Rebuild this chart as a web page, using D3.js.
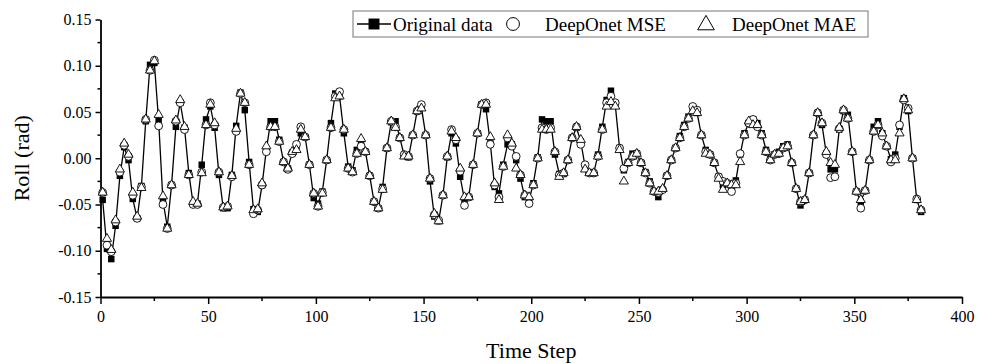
<!DOCTYPE html>
<html>
<head>
<meta charset="utf-8">
<script src="https://cdn.jsdelivr.net/npm/d3@7"></script>
<style>
  body { margin: 0; background: #fff; }
  text { font-family: "Liberation Serif", "Times New Roman", serif; fill: #000; }
</style>
</head>
<body>
<div class="chart"></div>
<script>
// time axis (one sample every 2 steps)
const timeStep = d3.range(1, 382, 2);

const original = [
  -0.045, -0.098, -0.109, -0.073, -0.019, 0.012, -0.002, -0.044, -0.065, -0.030,
  0.040, 0.101, 0.103, 0.040, -0.046, -0.074, -0.029, 0.034, 0.060, 0.033,
  -0.016, -0.049, -0.049, -0.007, 0.042, 0.056, 0.033, -0.018, -0.054, -0.054,
  -0.018, 0.035, 0.071, 0.052, -0.004, -0.055, -0.058, -0.029, 0.009, 0.040,
  0.040, 0.020, -0.004, -0.011, 0.006, 0.013, 0.027, 0.023, -0.007, -0.043,
  -0.049, -0.036, -0.002, 0.038, 0.070, 0.067, 0.027, -0.009, -0.013, 0.009,
  0.015, 0.007, -0.019, -0.047, -0.054, -0.031, 0.011, 0.039, 0.040, 0.022,
  0.003, 0.001, 0.025, 0.051, 0.055, 0.025, -0.025, -0.063, -0.068, -0.040,
  0.001, 0.027, 0.016, -0.020, -0.045, -0.042, -0.007, 0.027, 0.058, 0.053,
  0.016, -0.031, -0.038, -0.007, 0.015, 0.015, -0.002, -0.022, -0.042, -0.045,
  -0.027, 0.001, 0.042, 0.040, 0.040, 0.004, -0.017, -0.017, -0.002, 0.022,
  0.033, 0.018, -0.009, -0.015, -0.016, 0.004, 0.034, 0.063, 0.073, 0.058,
  0.011, -0.013, -0.004, 0.005, 0.005, -0.005, -0.015, -0.025, -0.036, -0.042,
  -0.034, -0.019, -0.002, 0.011, 0.024, 0.036, 0.045, 0.054, 0.049, 0.025,
  0.009, 0.004, -0.005, -0.020, -0.029, -0.027, -0.031, -0.024, 0.004, 0.027,
  0.038, 0.042, 0.038, 0.027, 0.009, -0.001, 0.004, 0.007, 0.013, 0.015,
  -0.005, -0.033, -0.051, -0.045, -0.016, 0.025, 0.049, 0.036, 0.005, -0.012,
  -0.012, 0.031, 0.051, 0.047, 0.007, -0.036, -0.047, -0.035, -0.002, 0.034,
  0.040, 0.027, 0.013, -0.001, 0.004, 0.034, 0.065, 0.051, 0.000, -0.045,
  -0.058
];

const deeponetMSE = [
  -0.037, -0.094, -0.101, -0.069, -0.015, 0.014, 0.002, -0.040, -0.065, -0.031,
  0.042, 0.095, 0.106, 0.035, -0.050, -0.076, -0.029, 0.040, 0.060, 0.031,
  -0.018, -0.050, -0.050, -0.015, 0.036, 0.060, 0.036, -0.015, -0.053, -0.052,
  -0.020, 0.029, 0.070, 0.060, -0.007, -0.060, -0.056, -0.029, 0.007, 0.034,
  0.034, 0.018, -0.004, -0.012, 0.005, 0.015, 0.034, 0.023, -0.007, -0.038,
  -0.052, -0.037, -0.002, 0.033, 0.067, 0.072, 0.031, -0.011, -0.015, 0.005,
  0.013, 0.007, -0.019, -0.047, -0.054, -0.033, 0.011, 0.040, 0.034, 0.022,
  0.004, 0.002, 0.025, 0.051, 0.058, 0.025, -0.022, -0.061, -0.067, -0.040,
  0.002, 0.031, 0.020, -0.014, -0.051, -0.042, -0.007, 0.027, 0.058, 0.060,
  0.015, -0.029, -0.042, -0.009, 0.022, 0.013, 0.002, -0.018, -0.040, -0.049,
  -0.029, 0.000, 0.033, 0.031, 0.033, 0.007, -0.018, -0.016, -0.002, 0.022,
  0.034, 0.015, -0.007, -0.016, -0.016, 0.002, 0.031, 0.060, 0.067, 0.060,
  0.011, -0.011, -0.005, 0.002, 0.005, -0.005, -0.016, -0.027, -0.036, -0.037,
  -0.034, -0.019, -0.002, 0.011, 0.022, 0.034, 0.043, 0.056, 0.052, 0.025,
  0.007, 0.004, -0.005, -0.020, -0.025, -0.027, -0.036, -0.027, 0.005, 0.025,
  0.038, 0.042, 0.034, 0.025, 0.007, -0.002, 0.004, 0.005, 0.011, 0.013,
  -0.005, -0.033, -0.047, -0.045, -0.016, 0.025, 0.049, 0.038, 0.004, -0.021,
  -0.020, 0.032, 0.052, 0.043, 0.007, -0.036, -0.054, -0.035, -0.002, 0.029,
  0.036, 0.024, 0.013, -0.004, 0.000, 0.036, 0.063, 0.054, 0.000, -0.044,
  -0.056
];

const deeponetMAE = [
  -0.037, -0.087, -0.099, -0.067, -0.012, 0.016, 0.004, -0.037, -0.063, -0.032,
  0.042, 0.095, 0.105, 0.047, -0.041, -0.076, -0.029, 0.041, 0.063, 0.034,
  -0.018, -0.047, -0.049, -0.016, 0.036, 0.058, 0.038, -0.015, -0.053, -0.052,
  -0.019, 0.032, 0.070, 0.060, -0.007, -0.056, -0.055, -0.027, 0.013, 0.034,
  0.034, 0.018, -0.004, -0.011, 0.007, 0.009, 0.031, 0.023, -0.007, -0.038,
  -0.052, -0.038, -0.002, 0.033, 0.065, 0.067, 0.031, -0.011, -0.015, 0.005,
  0.021, 0.007, -0.019, -0.047, -0.054, -0.034, 0.011, 0.040, 0.033, 0.022,
  0.002, 0.002, 0.025, 0.051, 0.054, 0.025, -0.022, -0.060, -0.068, -0.040,
  0.002, 0.029, 0.022, -0.011, -0.042, -0.042, -0.007, 0.027, 0.058, 0.058,
  0.023, -0.027, -0.045, -0.009, 0.025, 0.016, -0.011, -0.018, -0.040, -0.042,
  -0.029, 0.000, 0.031, 0.031, 0.031, 0.007, -0.020, -0.016, -0.002, 0.022,
  0.034, 0.020, -0.012, -0.016, -0.016, 0.002, 0.031, 0.056, 0.061, 0.056,
  0.009, -0.025, -0.005, 0.002, 0.005, -0.005, -0.016, -0.027, -0.036, -0.036,
  -0.033, -0.019, -0.002, 0.011, 0.022, 0.034, 0.043, 0.051, 0.049, 0.025,
  0.005, 0.004, -0.005, -0.022, -0.034, -0.027, -0.029, -0.029, -0.004, 0.025,
  0.040, 0.036, 0.036, 0.025, 0.007, -0.002, 0.004, 0.005, 0.011, 0.013,
  -0.005, -0.033, -0.047, -0.045, -0.016, 0.025, 0.049, 0.038, 0.007, -0.005,
  -0.007, 0.033, 0.052, 0.043, 0.007, -0.036, -0.045, -0.035, -0.002, 0.029,
  0.036, 0.027, 0.013, -0.002, -0.002, 0.027, 0.064, 0.052, 0.000, -0.045,
  -0.056
];

const xTicks = [0, 50, 100, 150, 200, 250, 300, 350, 400];
const yTicks = [-0.15, -0.10, -0.05, 0.00, 0.05, 0.10, 0.15];
const yTickLabels = ["-0.15", "-0.10", "-0.05", "0.00", "0.05", "0.10", "0.15"];
const seriesNames = ["Original data", "DeepOnet MSE", "DeepOnet MAE"];

const width = 984, height = 364;
const margin = {top: 19.5, right: 22, bottom: 67, left: 100.5};

const svg = d3.select(".chart").append("svg")
  .attr("width", width)
  .attr("height", height);

const x = d3.scaleLinear()
  .domain([0, 400])
  .range([margin.left, width - margin.right]);

const y = d3.scaleLinear()
  .domain([-0.15, 0.15])
  .range([height - margin.bottom, margin.top]);

// minor ticks
const xMinor = d3.range(25, 400, 50);
const yMinor = d3.range(-0.125, 0.15, 0.05);

const gx = svg.append("g")
  .attr("transform", `translate(0,${height - margin.bottom})`);
gx.call(d3.axisBottom(x).tickValues(xTicks).tickSize(7).tickSizeOuter(0).tickFormat(d3.format("d")))
  .call(g => g.select(".domain").attr("stroke-width", 1.8))
  .call(g => g.selectAll(".tick line").attr("stroke-width", 1.5))
  .call(g => g.selectAll(".tick text")
    .attr("font-family", "Liberation Serif")
    .attr("font-size", 16)
    .attr("dy", "0.95em"));
gx.selectAll(".minor").data(xMinor).join("line")
  .attr("class", "minor")
  .attr("x1", d => x(d)).attr("x2", d => x(d))
  .attr("y1", 0).attr("y2", 4)
  .attr("stroke", "#000").attr("stroke-width", 1.5);

const gy = svg.append("g")
  .attr("transform", `translate(${margin.left},0)`);
gy.call(d3.axisLeft(y).tickValues(yTicks).tickSize(5).tickSizeOuter(0)
    .tickFormat((d, i) => yTickLabels[i]))
  .call(g => g.select(".domain").attr("stroke-width", 1.8))
  .call(g => g.selectAll(".tick line").attr("stroke-width", 1.5))
  .call(g => g.selectAll(".tick text")
    .attr("font-family", "Liberation Serif")
    .attr("font-size", 16)
    .attr("x", -9));
gy.selectAll(".minor").data(yMinor).join("line")
  .attr("class", "minor")
  .attr("y1", d => y(d)).attr("y2", d => y(d))
  .attr("x1", 0).attr("x2", -3)
  .attr("stroke", "#000").attr("stroke-width", 1.5);

// axis titles
svg.append("text")
  .attr("x", (margin.left + width - margin.right) / 2)
  .attr("y", height - 6)
  .attr("text-anchor", "middle")
  .attr("font-size", 22)
  .text("Time Step");

svg.append("text")
  .attr("transform", `translate(29,${(margin.top + height - margin.bottom) / 2}) rotate(-90)`)
  .attr("text-anchor", "middle")
  .attr("font-size", 22)
  .text("Roll (rad)");

// original data line
const line = d3.line()
  .x((d, i) => x(timeStep[i]))
  .y(d => y(d));

svg.append("path")
  .datum(original)
  .attr("fill", "none")
  .attr("stroke", "#000")
  .attr("stroke-width", 1.3)
  .attr("d", line);

const square = d3.symbol().type(d3.symbolSquare).size(42);
const circle = d3.symbol().type(d3.symbolCircle).size(48);
const triangle = d3.symbol().type(d3.symbolTriangle).size(36);

svg.append("g").selectAll("path")
  .data(original)
  .join("path")
    .attr("transform", (d, i) => `translate(${x(timeStep[i])},${y(d)})`)
    .attr("d", square)
    .attr("fill", "#000");

svg.append("g").selectAll("path")
  .data(deeponetMSE)
  .join("path")
    .attr("transform", (d, i) => `translate(${x(timeStep[i])},${y(d)})`)
    .attr("d", circle)
    .attr("fill", "#fff")
    .attr("stroke", "#000")
    .attr("stroke-width", 0.9);

svg.append("g").selectAll("path")
  .data(deeponetMAE)
  .join("path")
    .attr("transform", (d, i) => `translate(${x(timeStep[i])},${y(d)})`)
    .attr("d", triangle)
    .attr("fill", "#fff")
    .attr("stroke", "#000")
    .attr("stroke-width", 0.9);

// legend
const legend = svg.append("g").attr("transform", "translate(353,11)");
legend.append("rect")
  .attr("width", 515).attr("height", 26)
  .attr("fill", "#fff").attr("stroke", "#777").attr("stroke-width", 1);

legend.append("line")
  .attr("x1", 4).attr("x2", 38).attr("y1", 13).attr("y2", 13)
  .attr("stroke", "#000").attr("stroke-width", 1.3);
legend.append("path")
  .attr("transform", "translate(21,13)")
  .attr("d", d3.symbol().type(d3.symbolSquare).size(120))
  .attr("fill", "#000");
legend.append("text").attr("x", 40).attr("y", 20).attr("font-size", 19).text(seriesNames[0]);

legend.append("path")
  .attr("transform", "translate(160,13)")
  .attr("d", d3.symbol().type(d3.symbolCircle).size(130))
  .attr("fill", "#fff").attr("stroke", "#000").attr("stroke-width", 1);
legend.append("text").attr("x", 192).attr("y", 20).attr("font-size", 19).text(seriesNames[1]);

legend.append("path")
  .attr("transform", "translate(353,14)")
  .attr("d", d3.symbol().type(d3.symbolTriangle).size(120))
  .attr("fill", "#fff").attr("stroke", "#000").attr("stroke-width", 1);
legend.append("text").attr("x", 379).attr("y", 20).attr("font-size", 19).text(seriesNames[2]);
</script>
</body>
</html>
